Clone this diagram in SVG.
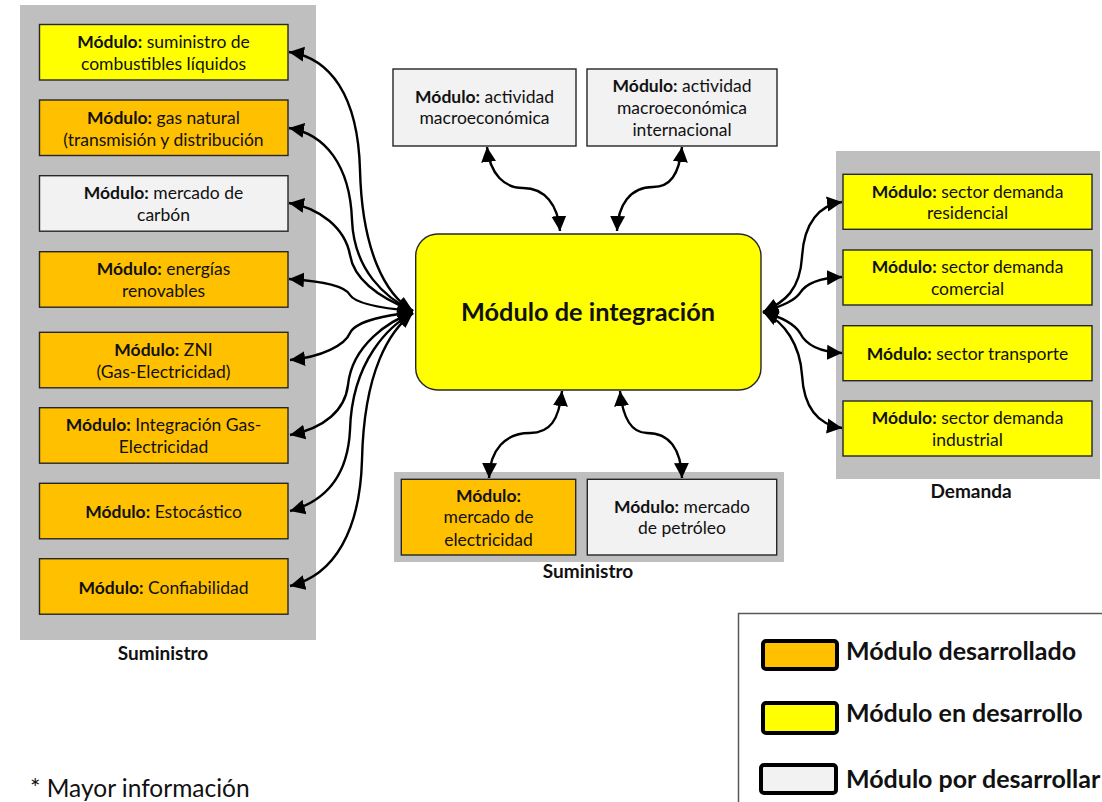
<svg xmlns="http://www.w3.org/2000/svg" width="1102" height="802" viewBox="0 0 1102 802">
<style>
.panel{fill:#BFBFBF}
.box{stroke:#262626;stroke-width:1.4}
.y{fill:#FFFF00}.o{fill:#FFC000}.g{fill:#F2F2F2}
text{font-family:Lato,"Liberation Sans",sans-serif;fill:#111;text-anchor:middle}
.t{font-size:17.5px}
.b{font-weight:bold}
.lbl{font-size:19px;font-weight:bold}
.conn{fill:none;stroke:#000;stroke-width:2.4;marker-start:url(#ah);marker-end:url(#ah)}
.leg{stroke:#000;stroke-width:4}
.legt{font-size:25px;font-weight:bold;text-anchor:start}
</style>
<defs>
<marker id="ah" markerUnits="userSpaceOnUse" viewBox="-15 -8 16 16" markerWidth="16" markerHeight="16" refX="0" refY="0" orient="auto-start-reverse">
<path d="M0,0 L-15,-7.5 L-15,7.5 z" fill="#000"/>
</marker>
</defs>
<rect width="1102" height="802" fill="#fff"/>

<!-- panels -->
<rect class="panel" x="20" y="5" width="296" height="635"/>
<rect class="panel" x="836" y="151" width="264" height="328"/>
<rect class="panel" x="394" y="472" width="390" height="90"/>
<text class="lbl" x="163" y="660">Suministro</text>
<text class="lbl" x="588" y="578">Suministro</text>
<text class="lbl" x="971" y="498">Demanda</text>

<!-- connectors -->
<g id="connectors">
<path class="conn" d="M289,52 C330,58 358,95 360,170 C362,250 385,295 413,311"/>
<path class="conn" d="M289,128 C325,134 350,165 352,220 C354,270 385,298 413,311"/>
<path class="conn" d="M289,203 C320,208 345,228 350,255 C355,285 390,302 413,311"/>
<path class="conn" d="M289,279 C320,281 345,285 350,295 C356,305 390,309 413,311"/>
<path class="conn" d="M290,360 C322,357 345,345 350,333 C356,320 390,315 413,312"/>
<path class="conn" d="M290,435 C325,428 345,410 348,385 C352,345 390,320 413,313"/>
<path class="conn" d="M290,511 C330,500 348,470 350,430 C352,360 390,325 413,313"/>
<path class="conn" d="M290,586 C335,575 360,530 362,460 C364,370 390,330 413,313"/>
<path class="conn" d="M763,312 C785,302 800,290 802,257 C804,222 820,205 842,202"/>
<path class="conn" d="M763,312 C785,305 795,300 800,293 C806,283 820,278 842,277"/>
<path class="conn" d="M763,312 C785,318 795,325 800,333 C806,345 820,352 842,353"/>
<path class="conn" d="M763,312 C785,322 800,345 802,375 C804,410 820,425 842,428"/>
<path class="conn" d="M487,147 C490,175 505,188 523,188 C545,188 558,205 560,231"/>
<path class="conn" d="M682,147 C679,175 670,187 653,187 C630,187 618,205 617,231"/>
<path class="conn" d="M562,391 C559,420 550,433 530,433 C505,433 490,450 489,478"/>
<path class="conn" d="M620,391 C623,420 632,433 647,433 C670,433 681,450 682,478"/>
</g>

<!-- central -->
<g id="integracion">
<rect class="box y" x="415.7" y="234" width="345.3" height="156" rx="22"/>
<text class="b" x="588" y="321" font-size="25.3">Módulo de integración</text>
</g>

<!-- left nodes -->
<g id="m_combustibles">
<rect class="box y" x="39.5" y="24.5" width="248.5" height="55.5"/>
<text class="t" x="163.5" y="48"><tspan class="b">Módulo:</tspan> suministro de</text>
<text class="t" x="163.5" y="70">combustibles líquidos</text>
</g>
<g id="m_gas">
<rect class="box o" x="39.5" y="100" width="248.5" height="55.5"/>
<text class="t" x="163.5" y="123.5"><tspan class="b">Módulo:</tspan> gas natural</text>
<text class="t" x="163.5" y="145.5">(transmisión y distribución</text>
</g>
<g id="m_carbon">
<rect class="box g" x="39.5" y="175.7" width="248.5" height="55.5"/>
<text class="t" x="163.5" y="199"><tspan class="b">Módulo:</tspan> mercado de</text>
<text class="t" x="163.5" y="221">carbón</text>
</g>
<g id="m_renovables">
<rect class="box o" x="39.5" y="251.7" width="248.5" height="55.5"/>
<text class="t" x="163.5" y="275"><tspan class="b">Módulo:</tspan> energías</text>
<text class="t" x="163.5" y="297">renovables</text>
</g>
<g id="m_zni">
<rect class="box o" x="39.5" y="332.3" width="248.5" height="55.5"/>
<text class="t" x="163.5" y="355.5"><tspan class="b">Módulo:</tspan> ZNI</text>
<text class="t" x="163.5" y="377.5">(Gas-Electricidad)</text>
</g>
<g id="m_integracion_gas">
<rect class="box o" x="39.5" y="407.7" width="248.5" height="55.5"/>
<text class="t" x="163.5" y="431"><tspan class="b">Módulo:</tspan> Integración Gas-</text>
<text class="t" x="163.5" y="453">Electricidad</text>
</g>
<g id="m_estocastico">
<rect class="box o" x="39.5" y="483.3" width="248.5" height="55.5"/>
<text class="t" x="163.5" y="518"><tspan class="b">Módulo:</tspan> Estocástico</text>
</g>
<g id="m_confiabilidad">
<rect class="box o" x="39.5" y="558.7" width="248.5" height="55.5"/>
<text class="t" x="163.5" y="593.5"><tspan class="b">Módulo:</tspan> Confiabilidad</text>
</g>

<!-- top nodes -->
<g id="m_macro">
<rect class="box g" x="393" y="69" width="183" height="77"/>
<text class="t" x="484.5" y="102.5"><tspan class="b">Módulo:</tspan> actividad</text>
<text class="t" x="484.5" y="124">macroeconómica</text>
</g>
<g id="m_macro_int">
<rect class="box g" x="587" y="69" width="190" height="77"/>
<text class="t" x="682" y="91.5"><tspan class="b">Módulo:</tspan> actividad</text>
<text class="t" x="682" y="113.5">macroeconómica</text>
<text class="t" x="682" y="135.5">internacional</text>
</g>

<!-- right nodes -->
<g id="m_residencial">
<rect class="box y" x="843" y="174.3" width="249" height="55"/>
<text class="t" x="967.5" y="197.5"><tspan class="b">Módulo:</tspan> sector demanda</text>
<text class="t" x="967.5" y="219">residencial</text>
</g>
<g id="m_comercial">
<rect class="box y" x="843" y="250" width="249" height="55"/>
<text class="t" x="967.5" y="273"><tspan class="b">Módulo:</tspan> sector demanda</text>
<text class="t" x="967.5" y="294.5">comercial</text>
</g>
<g id="m_transporte">
<rect class="box y" x="843" y="325.7" width="249" height="55"/>
<text class="t" x="967.5" y="360"><tspan class="b">Módulo:</tspan> sector transporte</text>
</g>
<g id="m_industrial">
<rect class="box y" x="843" y="401" width="249" height="55"/>
<text class="t" x="967.5" y="424"><tspan class="b">Módulo:</tspan> sector demanda</text>
<text class="t" x="967.5" y="445.5">industrial</text>
</g>

<!-- bottom nodes -->
<g id="m_electricidad">
<rect class="box o" x="401.3" y="479.3" width="174.4" height="75.7"/>
<text class="t b" x="488.5" y="501.5">Módulo:</text>
<text class="t" x="488.5" y="523.3">mercado de</text>
<text class="t" x="488.5" y="545.5">electricidad</text>
</g>
<g id="m_petroleo">
<rect class="box g" x="587.3" y="479.3" width="189.4" height="75.7"/>
<text class="t" x="682" y="512.7"><tspan class="b">Módulo:</tspan> mercado</text>
<text class="t" x="682" y="534">de petróleo</text>
</g>

<!-- legend -->
<g id="legend">
<rect x="738.5" y="613.5" width="420" height="250" fill="#fff" stroke="#595959" stroke-width="1.5"/>
<rect class="leg o" x="763" y="641" width="74" height="28" rx="3"/>
<rect class="leg y" x="763" y="703" width="74" height="30" rx="3"/>
<rect class="leg g" x="761" y="765" width="75" height="28" rx="3"/>
<text class="legt" x="846" y="660">Módulo desarrollado</text>
<text class="legt" x="846" y="722">Módulo en desarrollo</text>
<text class="legt" x="846" y="788">Módulo por desarrollar</text>
</g>

<text x="30" y="797" font-size="24.5" style="text-anchor:start">* Mayor información</text>
</svg>
